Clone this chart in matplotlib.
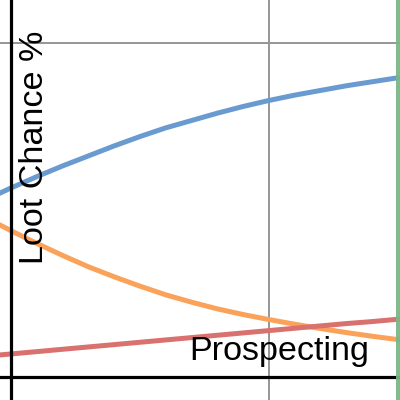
import matplotlib.pyplot as plt

# prospecting level, sampled every 10 (plus the bits running off the edges)
levels = [-5, 0, 10, 20, 30, 40, 50, 60, 70, 80, 90, 100, 110, 120, 130, 140, 150, 155]
blue = [27.4, 28.3, 30.0, 31.6, 33.1, 34.6, 36.0, 37.3, 38.4, 39.5, 40.5, 41.4, 42.2, 42.9, 43.6, 44.2, 44.8, 45.1]
orange = [22.9, 21.9, 20.0, 18.2, 16.5, 15.0, 13.6, 12.3, 11.2, 10.2, 9.35, 8.6, 7.9, 7.25, 6.65, 6.1, 5.6, 5.35]
red = [3.28, 3.45, 3.8, 4.15, 4.5, 4.85, 5.2, 5.55, 5.9, 6.25, 6.6, 6.95, 7.3, 7.65, 8.0, 8.3, 8.65, 8.85]
max_level = 150
grid_x = [100]
grid_y = [50]

plt.rcParams['font.family'] = ['Liberation Sans', 'DejaVu Sans']

fig = plt.figure(figsize=(4, 4), dpi=100)
ax = fig.add_axes([0, 0, 1, 1])
ax.set_xlim(-4.264, 150.78)
ax.set_ylim(-3.443, 56.44)
ax.axis('off')

for gx in grid_x:
    ax.axvline(gx, color='#969696', lw=1.4, zorder=1)
for gy in grid_y:
    ax.axhline(gy, color='#969696', lw=1.4, zorder=1)

ax.plot(levels, blue, color='#6a9bd0', lw=3.6, solid_capstyle='butt', zorder=2)
ax.plot(levels, orange, color='#fba25a', lw=3.6, solid_capstyle='butt', zorder=2)
ax.plot(levels, red, color='#d9716f', lw=3.6, solid_capstyle='butt', zorder=2)

# axes lines on top
ax.axvline(0, color='black', lw=2.3, zorder=3)
ax.axhline(0, color='black', lw=2.3, zorder=3)

ax.axvline(max_level, color='#7ab787', lw=3.6, alpha=0.95, zorder=4)

ax.text(189 / 400, 1 - 360 / 400, 'Prospecting', transform=ax.transAxes,
        fontsize=24.6, ha='left', va='baseline', zorder=5)
ax.text(43 / 400, 1 - 264.5 / 400, 'Loot Chance %', transform=ax.transAxes,
        fontsize=24.6, ha='left', va='baseline', rotation=90,
        rotation_mode='anchor', zorder=5)

fig.savefig('out.png', dpi=100)
